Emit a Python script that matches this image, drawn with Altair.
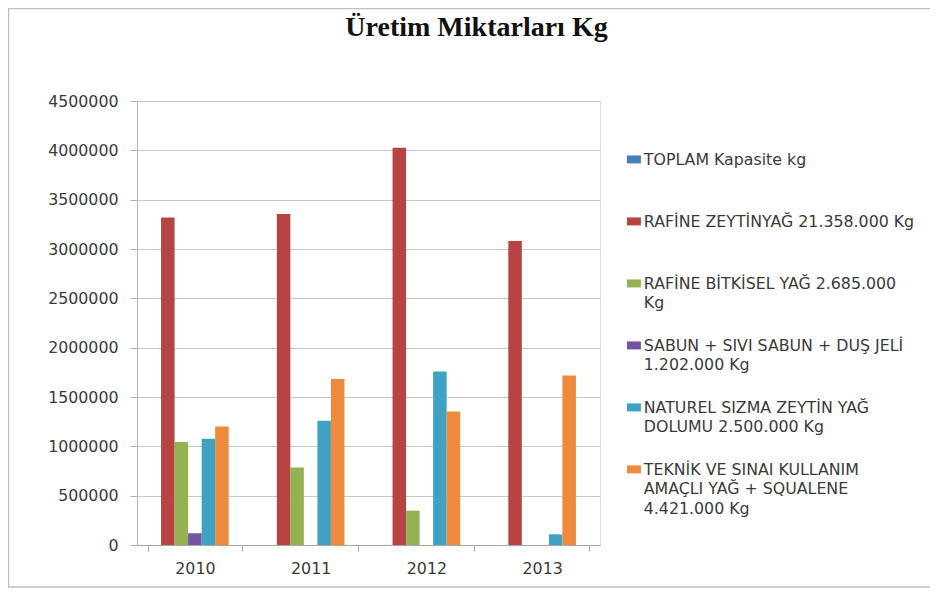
import json
import altair as alt
import pandas as pd

years = ["2010", "2011", "2012", "2013"]

legend_lines = [
    ["TOPLAM Kapasite kg"],
    ["RAFİNE ZEYTİNYAĞ 21.358.000 Kg"],
    ["RAFİNE BİTKİSEL YAĞ 2.685.000", "Kg"],
    ["SABUN + SIVI SABUN + DUŞ JELİ", "1.202.000 Kg"],
    ["NATUREL SIZMA ZEYTİN YAĞ", "DOLUMU 2.500.000 Kg"],
    ["TEKNİK VE SINAI KULLANIM", "AMAÇLI YAĞ + SQUALENE", "4.421.000 Kg"],
]
series = [" ".join(lines) for lines in legend_lines]

toplam_kapasite = [None, None, None, None]
rafine_zeytinyag = [3320000, 3355000, 4025000, 3080000]
rafine_bitkisel = [1043000, 785000, 348000, None]
sabun = [119000, None, None, None]
naturel_sizma = [1076000, 1259000, 1759000, 108000]
teknik_squalene = [1201000, 1682000, 1353000, 1719000]

colors = ["#4A7EBB", "#B54442", "#93B353", "#7454A0", "#3FA2C2", "#EE8A3C"]
y_ticks = [0, 500000, 1000000, 1500000, 2000000, 2500000, 3000000, 3500000, 4000000, 4500000]

all_values = [toplam_kapasite, rafine_zeytinyag, rafine_bitkisel, sabun, naturel_sizma, teknik_squalene]
rows = []
for name, vals in zip(series, all_values):
    for yr, v in zip(years, vals):
        if v is not None:
            rows.append({"year": yr, "series": name, "value": v})
df = pd.DataFrame(rows)

# one extra empty slot per group, as in the original chart
offset_domain = series + ["_"]

# multi-line legend labels, padded to three lines so every entry has the same height
padded = {" ".join(l): l + [""] * (3 - len(l)) for l in legend_lines}
label_expr = json.dumps(padded, ensure_ascii=False) + "[datum.label]"

FONT = "DejaVu Sans"
TXT = "#3a3a3a"
FS = 15.8

frame = alt.Chart(alt.Data(values=[{"a": 1}])).mark_rect(
    fill="transparent", stroke="#bfbfbf", strokeWidth=1.5
).encode(
    x=alt.value(-128.5), x2=alt.value(800), y=alt.value(-92.5), y2=alt.value(486)
)

bars = alt.Chart(df).mark_bar().encode(
    x=alt.X(
        "year:N",
        sort=years,
        scale=alt.Scale(paddingInner=0.182, paddingOuter=0.091),
        axis=alt.Axis(
            title=None, labelAngle=0, tickBand="extent", tickSize=6,
            tickColor="#a6a6a6", domainColor="#a6a6a6", labelPadding=10,
            labelFont=FONT, labelFontSize=FS, labelColor=TXT, grid=False,
        ),
    ),
    xOffset=alt.XOffset(
        "series:N", scale=alt.Scale(domain=offset_domain, paddingInner=0, paddingOuter=0)
    ),
    y=alt.Y(
        "value:Q",
        scale=alt.Scale(domain=[0, 4500000], nice=False),
        axis=alt.Axis(
            title=None, values=y_ticks, format="d", tickSize=7, labelPadding=12,
            tickColor="#b0b0b0", domainColor="#b8b8b8", gridColor="#c8c8c8",
            labelFont=FONT, labelFontSize=FS, labelColor=TXT,
        ),
    ),
    color=alt.Color(
        "series:N",
        scale=alt.Scale(domain=series, range=colors),
        legend=alt.Legend(
            title=None, orient="none", legendX=489, legendY=44, padding=0,
            labelExpr=label_expr, labelBaseline="top", labelLimit=500,
            labelFont=FONT, labelFontSize=FS, labelColor=TXT, labelOffset=2,
            symbolType="M-1,0.36H1V1.5H-1Z", symbolSize=196, symbolStrokeWidth=0,
            rowPadding=-3,
        ),
    ),
)

chart = alt.layer(frame, bars).properties(
    width=463,
    height=444,
    padding={"left": 129, "top": 93, "right": 330, "bottom": 43},
    autosize=alt.AutoSizeParams(type="none"),
    title=alt.TitleParams(
        "Üretim Miktarları Kg", font="Liberation Serif", fontSize=28,
        fontWeight="bold", color="#111111", anchor="middle", frame="group",
        dx=108, offset=0, dy=56, baseline="alphabetic",
    ),
).configure_view(stroke=None).configure(
    background="white", style={"guide-label": {"lineHeight": 19.6}}
)

chart.save("out.html", embed_options={"renderer": "svg", "actions": False})
